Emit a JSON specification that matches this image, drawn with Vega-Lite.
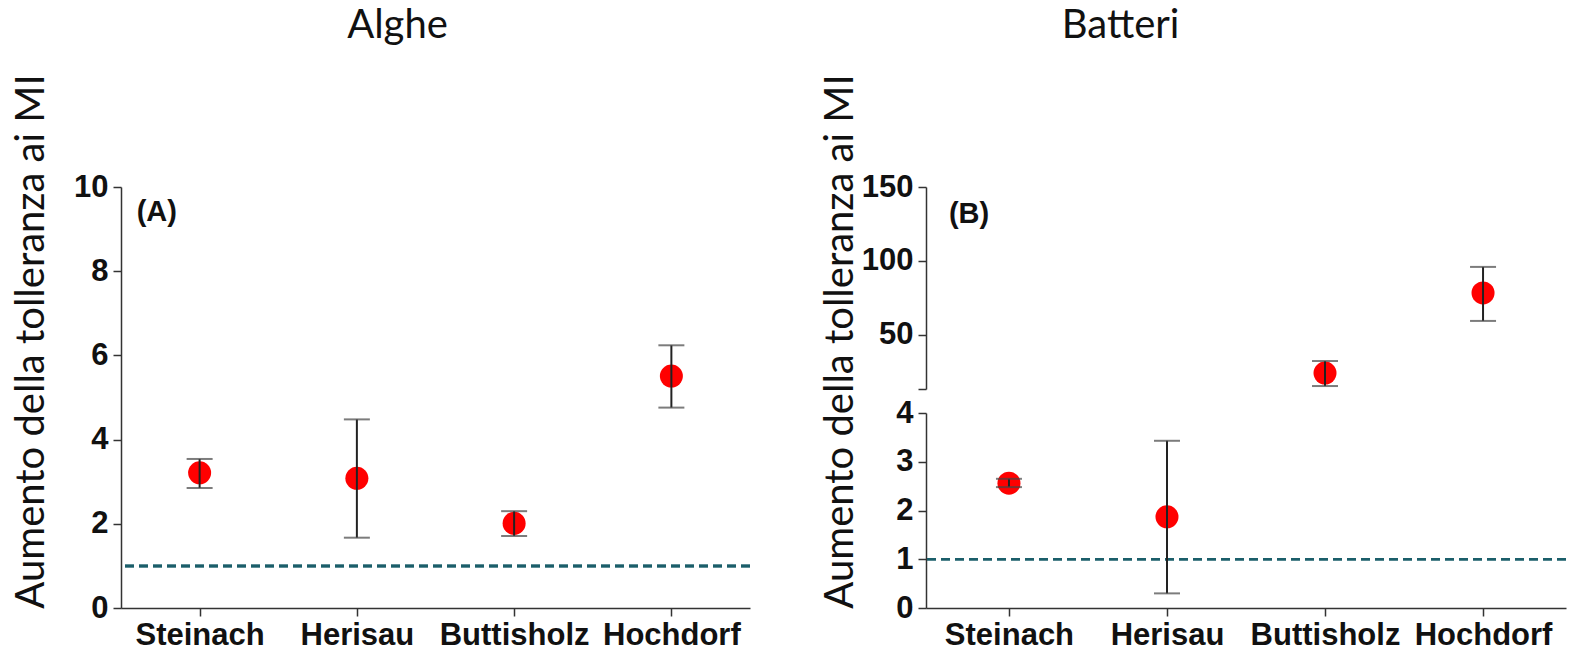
{
  "$schema": "https://vega.github.io/schema/vega-lite/v6.json",
  "background": "white",
  "padding": {"left": 10, "top": 5, "right": 4, "bottom": 0},
  "bounds": "flush",
  "spacing": 176,
  "resolve": {"scale": {"x": "independent", "y": "independent"}},
  "config": {
    "view": {"stroke": null},
    "axis": {
      "domainColor": "#333", "domainWidth": 1.5, "tickColor": "#333", "tickWidth": 1.5, "tickSize": 8,
      "labelFont": "Liberation Sans", "labelFontWeight": "bold", "labelFontSize": 31, "labelColor": "#111",
      "grid": false, "titleFont": "Lato", "titleFontSize": 40, "titleFontWeight": "normal", "titleColor": "#111"
    },
    "title": {"font": "Lato", "fontSize": 40, "fontWeight": "normal", "color": "#111"}
  },
  "datasets": {
    "algae": [
      {"site": "Steinach", "mean": 3.21, "lo": 2.85, "hi": 3.54},
      {"site": "Herisau", "mean": 3.08, "lo": 1.67, "hi": 4.48},
      {"site": "Buttisholz", "mean": 2.01, "lo": 1.71, "hi": 2.30},
      {"site": "Hochdorf", "mean": 5.51, "lo": 4.76, "hi": 6.24}
    ],
    "bact": [
      {"site": "Steinach", "mean": 2.56, "lo": 2.48, "hi": 2.65},
      {"site": "Herisau", "mean": 1.87, "lo": 0.30, "hi": 3.43},
      {"site": "Buttisholz", "mean": 24.3, "lo": 15.5, "hi": 32.4},
      {"site": "Hochdorf", "mean": 78.4, "lo": 59.5, "hi": 96}
    ],
    "labA": [{"lab": "(A)"}],
    "labB": [{"lab": "(B)"}]
  },
  "hconcat": [
    {
      "title": {"text": "Alghe", "anchor": "middle", "dx": -38, "offset": -4, "baseline": "alphabetic"},
      "width": 629,
      "height": 421,
      "data": {"name": "algae"},
      "encoding": {
        "x": {"field": "site", "type": "nominal", "scale": {"type": "point", "padding": 0.5, "domain": ["Steinach", "Herisau", "Buttisholz", "Hochdorf"]},
              "axis": {"title": null, "labelAngle": 0, "labelPadding": 4}}
      },
      "layer": [
        {"mark": {"type": "rule", "strokeDash": [9, 5], "strokeWidth": 2.5, "color": "#1b5e6a"},
         "encoding": {"x": null, "y": {"datum": 1, "type": "quantitative"}}},
        {"mark": {"type": "circle", "size": 530, "color": "#ff0000", "opacity": 1},
         "encoding": {"y": {"field": "mean", "type": "quantitative",
           "scale": {"domain": [0, 10], "nice": false},
           "axis": {"values": [0, 2, 4, 6, 8, 10], "title": "Aumento della tolleranza ai MI", "titleX": -90, "titleY": 154, "titleAlign": "center", "titleBaseline": "middle", "titleAngle": -90, "labelPadding": 5}}}},
        {"mark": {"type": "rule", "color": "#222", "strokeWidth": 2},
         "encoding": {"y": {"field": "lo", "type": "quantitative"}, "y2": {"field": "hi"}}},
        {"mark": {"type": "tick", "color": "#444", "size": 26, "thickness": 2},
         "encoding": {"y": {"field": "lo", "type": "quantitative"}}},
        {"mark": {"type": "tick", "color": "#444", "size": 26, "thickness": 2},
         "encoding": {"y": {"field": "hi", "type": "quantitative"}}},
        {"data": {"name": "labA"},
         "mark": {"type": "text", "font": "Liberation Sans", "fontWeight": "bold", "fontSize": 29, "align": "left", "baseline": "middle", "dx": -63, "color": "#111"},
         "encoding": {"x": {"datum": "Steinach"}, "y": {"datum": 9.4, "type": "quantitative"}, "text": {"field": "lab"}}}
      ]
    },
    {
      "title": {"text": "Batteri", "anchor": "middle", "dx": -73, "offset": -4, "baseline": "alphabetic"},
      "bounds": "flush",
      "spacing": 24,
      "resolve": {"scale": {"x": "independent", "y": "independent"}},
      "vconcat": [
        {
          "width": 640,
          "height": 202,
          "data": {"name": "bact"},
          "transform": [{"filter": "datum.mean > 4"}],
          "encoding": {
            "x": {"field": "site", "type": "nominal", "scale": {"type": "point", "padding": 0.525, "domain": ["Steinach", "Herisau", "Buttisholz", "Hochdorf"]}, "axis": null}
          },
          "layer": [
            {"mark": {"type": "circle", "size": 530, "color": "#ff0000", "opacity": 1},
             "encoding": {"y": {"field": "mean", "type": "quantitative",
               "scale": {"domain": [13.5, 150], "nice": false, "zero": false},
               "axis": {"values": [13.5, 50, 100, 150], "labelExpr": "datum.value < 20 ? '' : datum.label", "title": null, "labelPadding": 5}}}},
            {"mark": {"type": "rule", "color": "#222", "strokeWidth": 2},
             "encoding": {"y": {"field": "lo", "type": "quantitative"}, "y2": {"field": "hi"}}},
            {"mark": {"type": "tick", "color": "#444", "size": 26, "thickness": 2},
             "encoding": {"y": {"field": "lo", "type": "quantitative"}}},
            {"mark": {"type": "tick", "color": "#444", "size": 26, "thickness": 2},
             "encoding": {"y": {"field": "hi", "type": "quantitative"}}},
            {"data": {"name": "labB"},
             "mark": {"type": "text", "font": "Liberation Sans", "fontWeight": "bold", "fontSize": 29, "align": "left", "baseline": "middle", "dx": -60, "color": "#111"},
             "encoding": {"x": {"datum": "Steinach"}, "y": {"datum": 132, "type": "quantitative"}, "text": {"field": "lab"}}}
          ]
        },
        {
          "width": 640,
          "height": 195,
          "data": {"name": "bact"},
          "transform": [{"filter": "datum.mean <= 4"}],
          "encoding": {
            "x": {"field": "site", "type": "nominal", "scale": {"type": "point", "padding": 0.525, "domain": ["Steinach", "Herisau", "Buttisholz", "Hochdorf"]},
                  "axis": {"title": null, "labelAngle": 0, "labelPadding": 4}}
          },
          "layer": [
            {"mark": {"type": "rule", "strokeDash": [9, 5], "strokeWidth": 2.5, "color": "#1b5e6a"},
             "encoding": {"x": null, "y": {"datum": 1, "type": "quantitative"}}},
            {"mark": {"type": "circle", "size": 530, "color": "#ff0000", "opacity": 1},
             "encoding": {"y": {"field": "mean", "type": "quantitative",
               "scale": {"domain": [0, 4], "nice": false},
               "axis": {"values": [0, 1, 2, 3, 4], "title": "Aumento della tolleranza ai MI", "titleX": -86, "titleY": -72, "titleAlign": "center", "titleBaseline": "middle", "titleAngle": -90, "labelPadding": 5}}}},
            {"mark": {"type": "rule", "color": "#222", "strokeWidth": 2},
             "encoding": {"y": {"field": "lo", "type": "quantitative"}, "y2": {"field": "hi"}}},
            {"mark": {"type": "tick", "color": "#444", "size": 26, "thickness": 2},
             "encoding": {"y": {"field": "lo", "type": "quantitative"}}},
            {"mark": {"type": "tick", "color": "#444", "size": 26, "thickness": 2},
             "encoding": {"y": {"field": "hi", "type": "quantitative"}}}
          ]
        }
      ]
    }
  ]
}
